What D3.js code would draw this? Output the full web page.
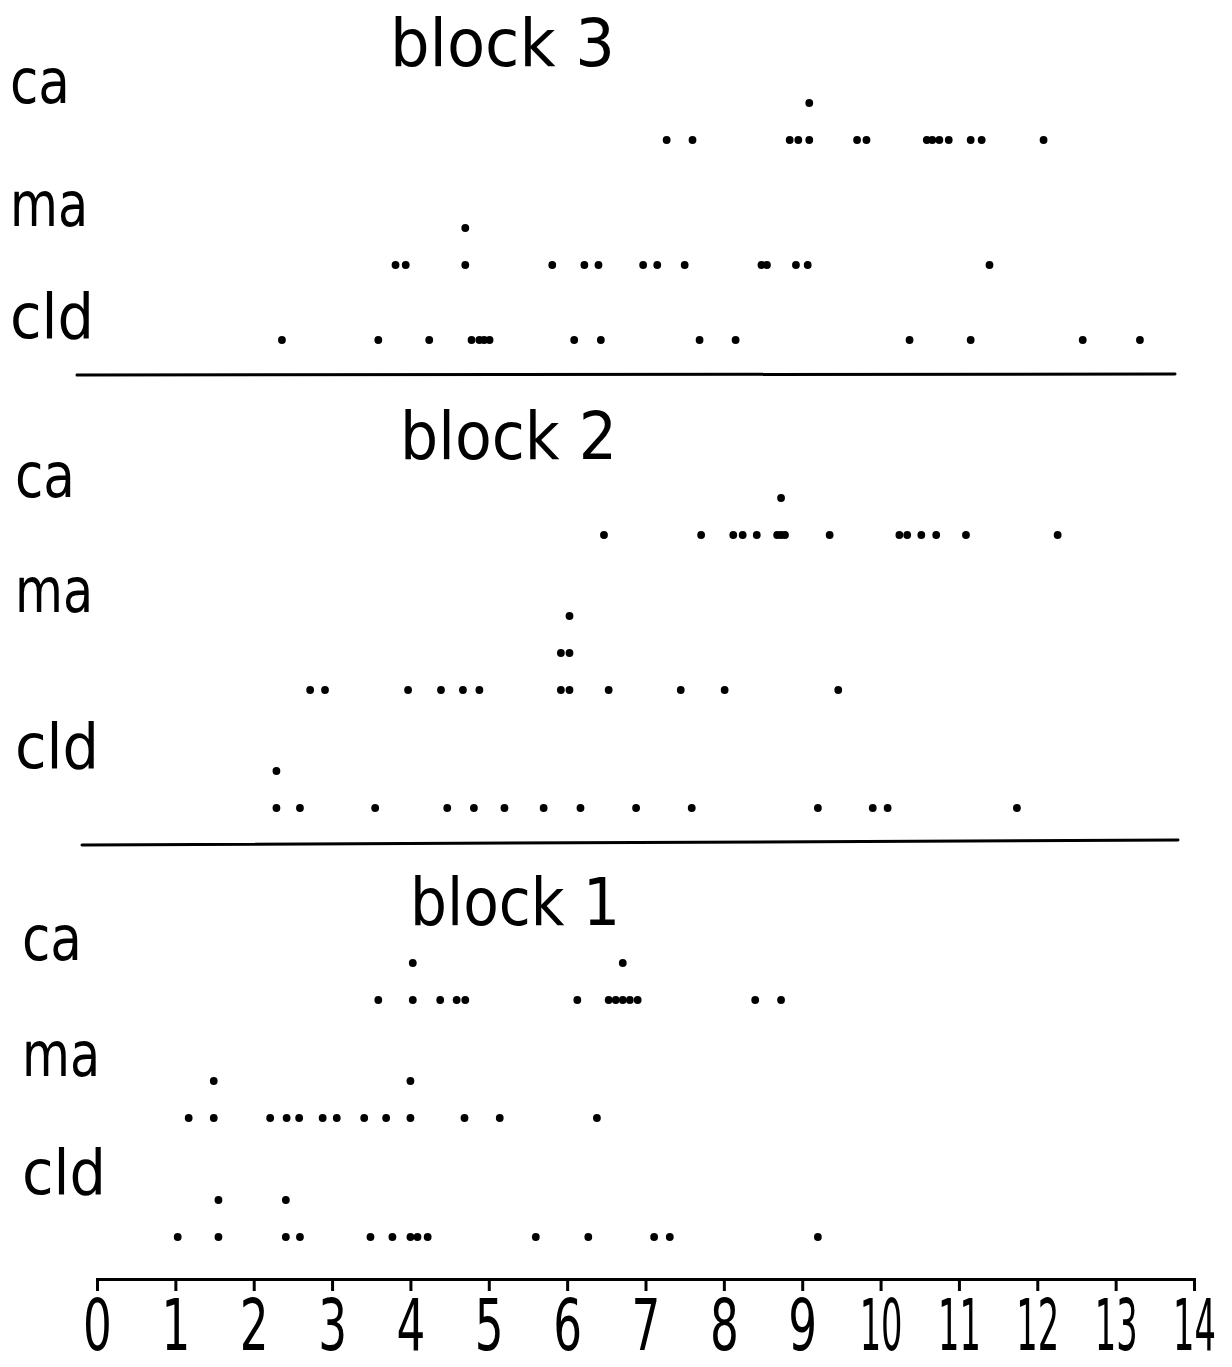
<!DOCTYPE html>
<html>
<head>
<meta charset="utf-8">
<script src="https://cdn.jsdelivr.net/npm/d3@7"></script>
<style>
  body { margin: 0; background: #fff; }
  svg { display: block; }
  text { font-family: "DejaVu Sans Condensed", "DejaVu Sans", sans-serif; fill: #000; }
</style>
</head>
<body>
<script>
// Data: one value per dot, repeated values pile up
const blocks = ['block 3', 'block 2', 'block 1'];
const series = ['ca', 'ma', 'cld'];
const tickValues = d3.range(0, 15);

const block3Ca = [7.27, 7.60, 8.84, 8.95, 9.09, 9.09, 9.70, 9.82, 10.59, 10.66, 10.75, 10.87, 11.15, 11.29, 12.08];
const block3Ma = [3.81, 3.94, 4.70, 4.70, 5.81, 6.22, 6.40, 6.97, 7.15, 7.50, 8.48, 8.55, 8.92, 9.07, 11.39];
const block3Cld = [2.36, 3.59, 4.24, 4.78, 4.88, 4.94, 5.01, 6.09, 6.43, 7.69, 8.15, 10.37, 11.15, 12.58, 13.31];

const block2Ca = [6.47, 7.71, 8.12, 8.24, 8.42, 8.68, 8.73, 8.73, 8.78, 9.35, 10.24, 10.34, 10.52, 10.71, 11.09, 12.26];
const block2Ma = [2.72, 2.91, 3.97, 4.39, 4.67, 4.88, 5.92, 5.92, 6.03, 6.03, 6.03, 6.53, 7.45, 8.01, 9.46];
const block2Cld = [2.29, 2.29, 2.59, 3.55, 4.47, 4.81, 5.20, 5.70, 6.17, 6.88, 7.59, 9.20, 9.90, 10.09, 11.74];

const block1Ca = [3.59, 4.03, 4.03, 4.38, 4.59, 4.70, 6.13, 6.53, 6.62, 6.71, 6.71, 6.80, 6.90, 8.40, 8.73];
const block1Ma = [1.17, 1.49, 1.49, 2.21, 2.42, 2.58, 2.88, 3.06, 3.41, 3.69, 4.00, 4.00, 4.69, 5.14, 6.38];
const block1Cld = [1.03, 1.55, 1.55, 2.41, 2.41, 2.59, 3.49, 3.77, 4.00, 4.09, 4.22, 5.60, 6.27, 7.11, 7.31, 9.20];

const dataByBlock = {
  'block 3': [block3Ca, block3Ma, block3Cld],
  'block 2': [block2Ca, block2Ma, block2Cld],
  'block 1': [block1Ca, block1Ma, block1Cld]
};

// Layout of the hand-drawn sheet
const width = 1232, height = 1367;
const stackStep = 37;
const layout = {
  'block 3': { titleX: 390, titleY: 66, titleW: 225, labelX: 10, labelY: [103, 226, 338], rowY: [140, 265, 340] },
  'block 2': { titleX: 400, titleY: 459, titleW: 217, labelX: 15, labelY: [497, 612, 768], rowY: [535, 690, 808] },
  'block 1': { titleX: 410, titleY: 925, titleW: 210, labelX: 22, labelY: [960, 1076, 1194], rowY: [1000, 1118, 1237] }
};
const labelW = { ca: 60, ma: 78, cld: 84 };
const separators = [
  { x1: 77, y1: 375, x2: 1175, y2: 374 },
  { x1: 82, y1: 845, x2: 1178, y2: 840 }
];

const svg = d3.select('body')
  .append('svg')
  .attr('width', width)
  .attr('height', height);

const x = d3.scaleLinear()
  .domain([0, 14])
  .range([97, 1194]);

function addText(str, tx, ty, size, len) {
  svg.append('text')
    .attr('x', tx)
    .attr('y', ty)
    .attr('font-size', size)
    .attr('textLength', len)
    .attr('lengthAdjust', 'spacingAndGlyphs')
    .text(str);
}

// Blocks: title, row labels and dots
blocks.forEach(block => {
  const lay = layout[block];
  addText(block, lay.titleX, lay.titleY, 66, lay.titleW);

  series.forEach((s, i) => {
    addText(s, lay.labelX, lay.labelY[i], 62, labelW[s]);

    // pile repeated values upwards
    const seen = {};
    const dots = dataByBlock[block][i].map(v => {
      const key = v.toFixed(2);
      seen[key] = (seen[key] || 0) + 1;
      return { value: v, level: seen[key] - 1 };
    });

    svg.append('g')
      .selectAll('circle')
      .data(dots)
      .enter()
      .append('circle')
      .attr('cx', d => x(d.value))
      .attr('cy', d => lay.rowY[i] - d.level * stackStep)
      .attr('r', 3.9)
      .attr('fill', '#000');
  });
});

// Block separators
svg.selectAll('.sep')
  .data(separators)
  .enter()
  .append('line')
  .attr('class', 'sep')
  .attr('x1', d => d.x1)
  .attr('y1', d => d.y1)
  .attr('x2', d => d.x2)
  .attr('y2', d => d.y2)
  .attr('stroke', '#000')
  .attr('stroke-width', 3)
  .attr('stroke-linecap', 'round');

// Bottom axis
const xAxis = d3.axisBottom(x)
  .tickValues(tickValues)
  .tickSize(12)
  .tickSizeOuter(12)
  .tickFormat(d3.format('d'));

const axisG = svg.append('g')
  .attr('transform', 'translate(0, 1279)')
  .call(xAxis);

axisG.select('.domain')
  .attr('stroke-width', 3);

axisG.selectAll('.tick line')
  .attr('stroke-width', 3);

// narrow, tall digits like the stencil lettering
axisG.selectAll('.tick text')
  .attr('y', 0)
  .attr('dy', 0)
  .attr('font-size', 72)
  .attr('transform', d => `translate(0, 71) scale(${d >= 10 ? 0.52 : 0.7}, 1)`);
</script>
</body>
</html>
